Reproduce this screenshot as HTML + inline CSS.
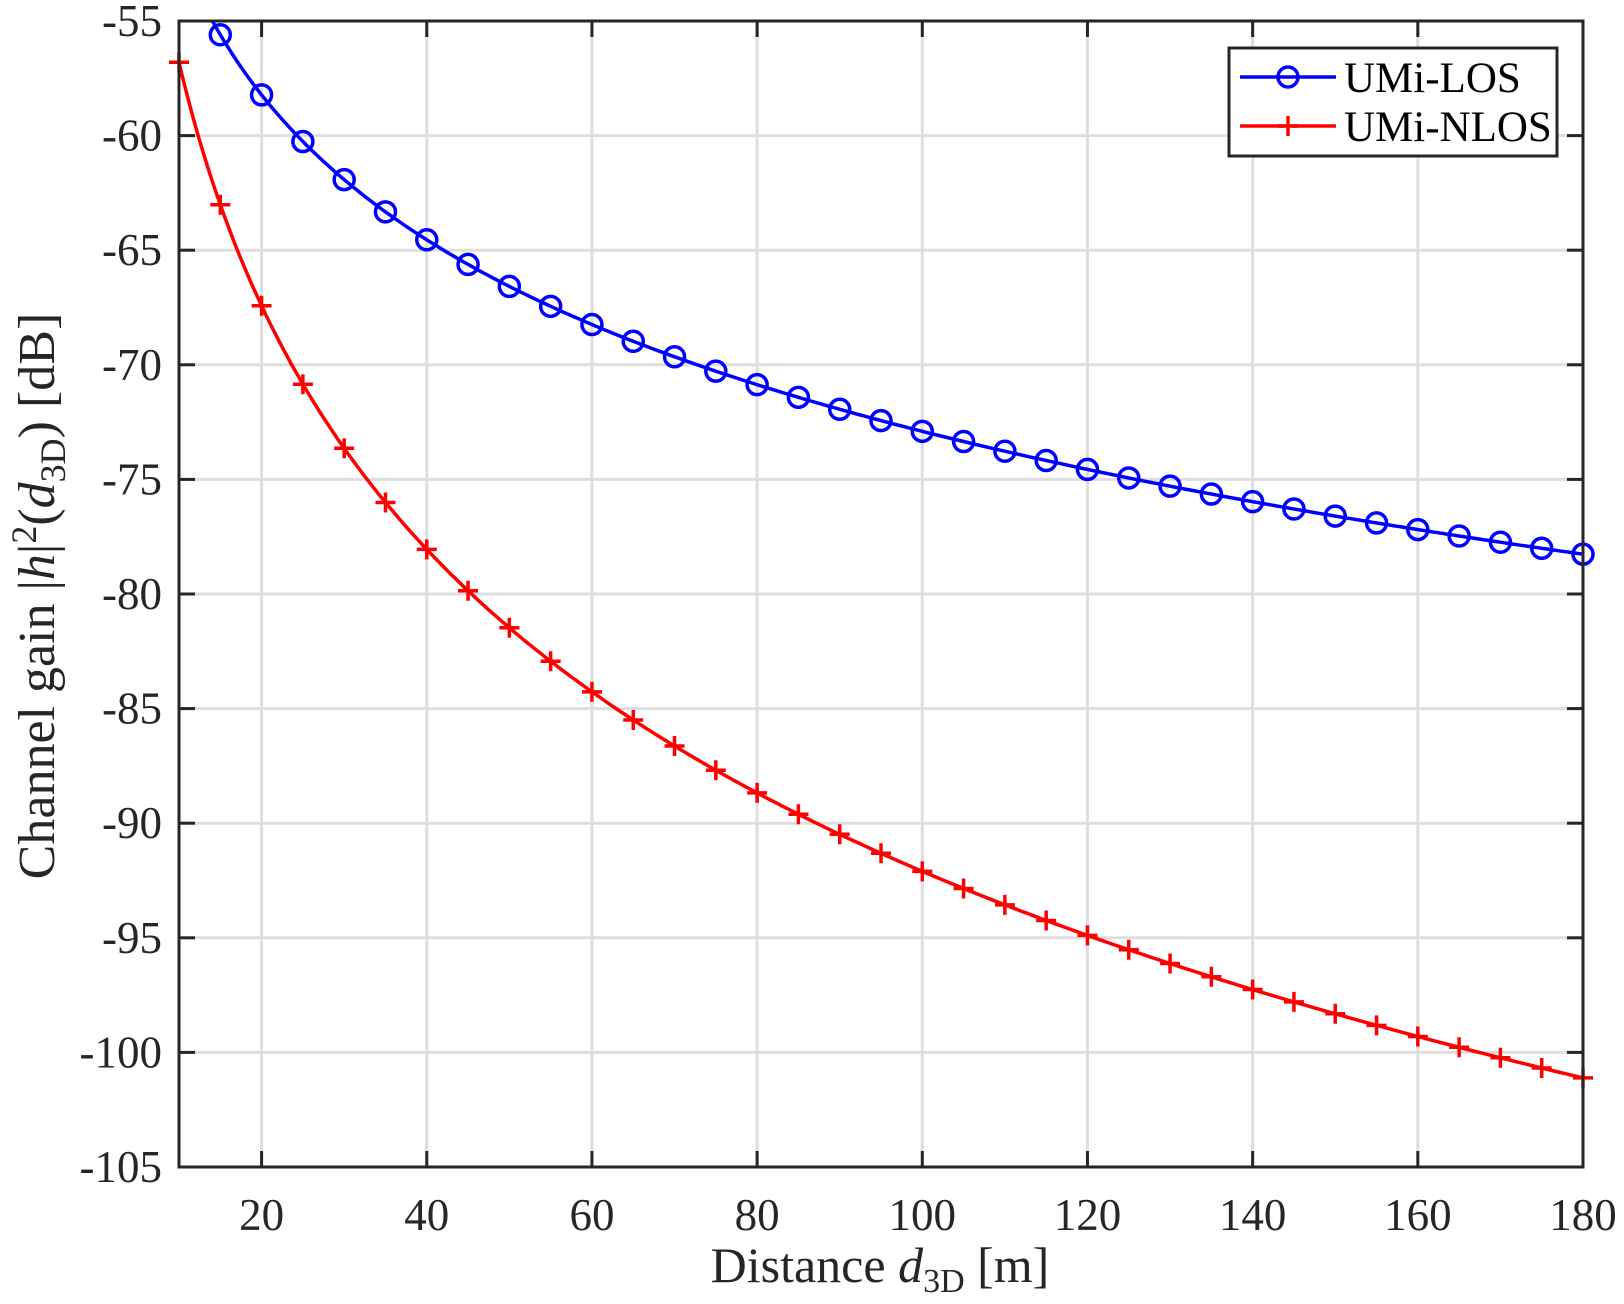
<!DOCTYPE html>
<html><head><meta charset="utf-8"><style>
html,body{margin:0;padding:0;background:#fff;}
svg{display:block;font-family:"Liberation Serif",serif;}
</style></head><body>
<svg id="s" width="1624" height="1304" xmlns="http://www.w3.org/2000/svg"></svg>
<script>
const L=179,R=1583,T=21,B=1167;
const X=d=>L+(d-10)*(R-L)/170, Y=v=>T+(-55-v)*(B-T)/50;
let h='';
for(let d=20;d<=180;d+=20){h+=`<line x1="${X(d)}" y1="${T}" x2="${X(d)}" y2="${B}" stroke="#dedede" stroke-width="3"/>`;}
for(let v=-100;v<=-60;v+=5){h+=`<line x1="${L}" y1="${Y(v)}" x2="${R}" y2="${Y(v)}" stroke="#dedede" stroke-width="3"/>`;}
for(let d=20;d<=180;d+=20){h+=`<line x1="${X(d)}" y1="${B}" x2="${X(d)}" y2="${B-16}" stroke="#262626" stroke-width="3"/><line x1="${X(d)}" y1="${T}" x2="${X(d)}" y2="${T+16}" stroke="#262626" stroke-width="3"/>`;
h+=`<text x="${X(d)}" y="1230" font-size="45" fill="#262626" text-anchor="middle">${d}</text>`;}
for(let v=-105;v<=-55;v+=5){h+=`<line x1="${L}" y1="${Y(v)}" x2="${L+16}" y2="${Y(v)}" stroke="#262626" stroke-width="3"/><line x1="${R}" y1="${Y(v)}" x2="${R-16}" y2="${Y(v)}" stroke="#262626" stroke-width="3"/>`;
h+=`<text x="162" y="${Y(v)+15}" font-size="45" fill="#262626" text-anchor="end">${v}</text>`;}
h+=`<defs><clipPath id="c"><rect x="${L}" y="${T}" width="${R-L}" height="${B-T}"/></clipPath></defs>`;
const los=d=>-55.6-21*Math.log10(d/15), nl=d=>-56.8-35.3*Math.log10(d/10);
let p1='',p2='';
for(let d=10;d<=180;d+=0.5){p1+=(d==10?'M':'L')+X(d).toFixed(1)+','+Y(los(d)).toFixed(1);p2+=(d==10?'M':'L')+X(d).toFixed(1)+','+Y(nl(d)).toFixed(1);}
h+=`<g clip-path="url(#c)"><path d="${p1}" fill="none" stroke="#0000ff" stroke-width="3.5"/></g><path d="${p2}" fill="none" stroke="#ff0000" stroke-width="3.5"/>`;
for(let d=15;d<=180;d+=5){h+=`<circle cx="${X(d)}" cy="${Y(los(d))}" r="10" fill="none" stroke="#0000ff" stroke-width="3.5"/>`;}
for(let d=10;d<=180;d+=5){const x=X(d),y=Y(nl(d));h+=`<path d="M${x-10},${y}H${x+10}M${x},${y-10}V${y+10}" stroke="#ff0000" stroke-width="3.5"/>`;}
h+=`<rect x="${L}" y="${T}" width="${R-L}" height="${B-T}" fill="none" stroke="#262626" stroke-width="3"/>`;
h+=`<rect x="1229" y="48" width="328" height="108" fill="#fff" stroke="#262626" stroke-width="3"/>`;
h+=`<line x1="1240" y1="77" x2="1336" y2="77" stroke="#0000ff" stroke-width="3.5"/><circle cx="1288" cy="77" r="10" fill="none" stroke="#0000ff" stroke-width="3.5"/>`;
h+=`<line x1="1240" y1="126" x2="1336" y2="126" stroke="#ff0000" stroke-width="3.5"/><path d="M1278,126H1298M1288,116V136" stroke="#ff0000" stroke-width="3.5"/>`;
h+=`<text x="1344" y="92" font-size="43" fill="#000">UMi-LOS</text><text x="1344" y="141" font-size="43" fill="#000">UMi-NLOS</text>`;
h+=`<text x="880" y="1282" font-size="50" fill="#262626" text-anchor="middle">Distance <tspan font-style="italic">d</tspan><tspan font-size="34" dy="10">3D</tspan><tspan dy="-10"> [m]</tspan></text>`;
h+=`<text transform="translate(54,596) rotate(-90)" font-size="52" fill="#262626" text-anchor="middle">Channel gain |<tspan font-style="italic">h</tspan>|<tspan font-size="36" dy="-18">2</tspan><tspan dy="18">(</tspan><tspan font-style="italic">d</tspan><tspan font-size="36" dy="11">3D</tspan><tspan dy="-11">) [dB]</tspan></text>`;
document.getElementById('s').innerHTML=h;
</script>
</body></html>
